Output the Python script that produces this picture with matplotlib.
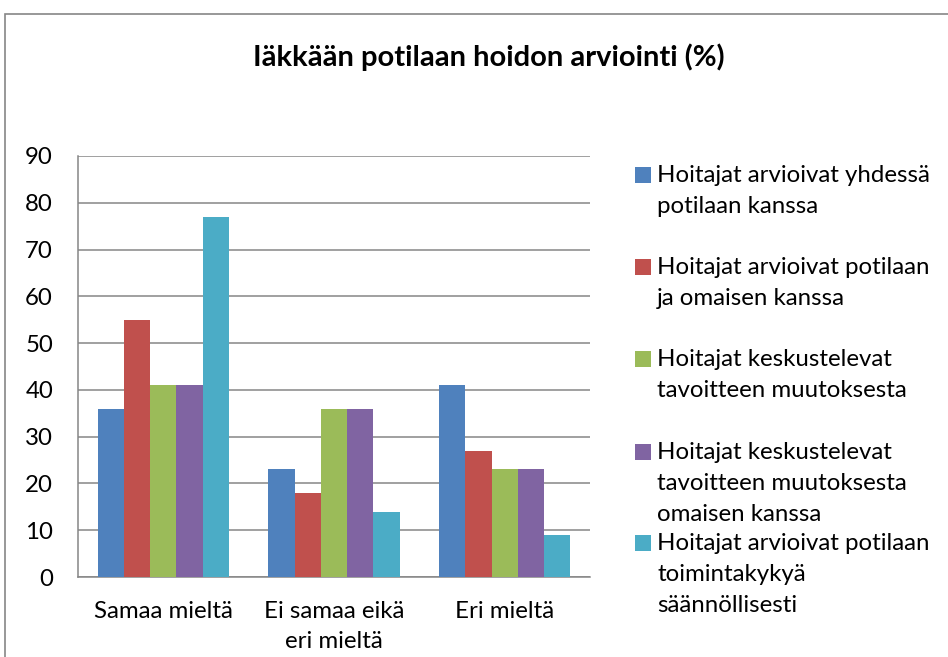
import matplotlib
matplotlib.use("Agg")
import matplotlib.pyplot as plt
from matplotlib.patches import Rectangle
import numpy as np

plt.rcParams['font.family'] = ['Lato', 'DejaVu Sans']

title = "Iäkkään potilaan hoidon arviointi (%)"
categories = ["Samaa mieltä", "Ei samaa eikä\neri mieltä", "Eri mieltä"]
series_names = [
    "Hoitajat arvioivat yhdessä\npotilaan kanssa",
    "Hoitajat arvioivat potilaan\nja omaisen kanssa",
    "Hoitajat keskustelevat\ntavoitteen muutoksesta",
    "Hoitajat keskustelevat\ntavoitteen muutoksesta\nomaisen kanssa",
    "Hoitajat arvioivat potilaan\ntoimintakykyä\nsäännöllisesti",
]
s1 = [36, 23, 41]
s2 = [55, 18, 27]
s3 = [41, 36, 23]
s4 = [41, 36, 23]
s5 = [77, 14, 9]
series = [s1, s2, s3, s4, s5]
colors = ["#4F81BD", "#C0504D", "#9BBB59", "#8064A2", "#4BACC6"]
yticks = [0, 10, 20, 30, 40, 50, 60, 70, 80, 90]

W, H = 948, 657
fig = plt.figure(figsize=(W / 100, H / 100), dpi=100)
fig.patch.set_facecolor("white")

# outer chart border
fig.patches.append(Rectangle((5 / W, -0.05), 1.2, 1 - 14 / H + 0.05,
                             transform=fig.transFigure, fill=False,
                             edgecolor="#868686", linewidth=1.2))

ax = fig.add_axes([78 / W, 1 - 577 / H, (590 - 78) / W, (577 - 156) / H])
x = np.arange(len(categories))
bw = 0.154
for j, (vals, c) in enumerate(zip(series, colors)):
    ax.bar(x + (j - 2) * bw, vals, width=bw, color=c, edgecolor="none", zorder=3)

fs = 17.3
ax.set_xlim(-0.5, 2.5)
ax.set_ylim(0, 90)
ax.set_yticks(yticks)
ax.set_yticklabels([str(v) for v in yticks], fontsize=fs)
ax.set_xticks(x)
ax.set_xticklabels(categories, fontsize=fs, linespacing=1.55)
ax.tick_params(axis="x", length=0, pad=17)
ax.tick_params(axis="y", length=0, pad=18)
ax.grid(axis="y", color="#868686", linewidth=1.1, zorder=0)
for s in ["top", "right"]:
    ax.spines[s].set_visible(False)
for s in ["left", "bottom"]:
    ax.spines[s].set_color("#868686")
    ax.spines[s].set_linewidth(1.1)

fig.text(489 / W, 1 - 57 / H, title, ha="center", va="center",
         fontsize=21, fontweight="bold")

# legend (manual, Excel-like)
entry_y = [175, 267, 359, 452, 543]
for name, c, yy in zip(series_names, colors, entry_y):
    fig.patches.append(Rectangle((635 / W, 1 - (yy + 8) / H), 16 / W, 16 / H,
                                 transform=fig.transFigure, facecolor=c,
                                 edgecolor="none"))
    fig.text(657 / W, 1 - (yy - 10) / H, name, ha="left", va="top",
             fontsize=fs, linespacing=1.6)

fig.savefig("out.png", dpi=100)
